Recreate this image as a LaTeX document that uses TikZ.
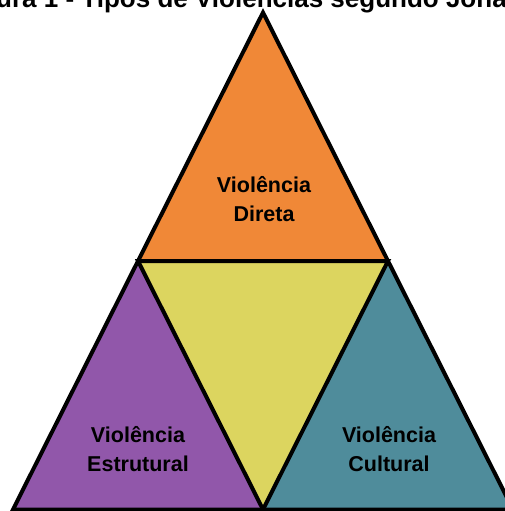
\documentclass[tikz,border=0pt]{standalone}
\usepackage{fontspec}
\setmainfont{Liberation Sans}
\definecolor{cOrange}{RGB}{240,136,55}
\definecolor{cYellow}{RGB}{220,213,95}
\definecolor{cPurple}{RGB}{145,87,170}
\definecolor{cTeal}{RGB}{79,140,155}
\tikzset{
  edge/.style={draw=black, line width=4pt, line join=miter},
  lbl/.style={font=\fontsize{21.5}{29}\selectfont\bfseries, align=center, text=black, inner sep=0pt},
  ttl/.style={font=\fontsize{26}{30}\selectfont\bfseries, text=black, inner sep=0pt, anchor=base west}
}
\begin{document}
\begin{tikzpicture}[x=1pt,y=-1pt]
\useasboundingbox (0,0) rectangle (505,511);
\begin{scope}
\clip (0,0) rectangle (505,511);
\coordinate (A) at (263,12.5);
\coordinate (L) at (138,261);
\coordinate (R) at (388,261);
\coordinate (BL) at (13,509.5);
\coordinate (BC) at (263,509.5);
\coordinate (BR) at (513,509.5);
\fill[cOrange] (A) -- (L) -- (R) -- cycle;
\fill[cYellow] (L) -- (R) -- (BC) -- cycle;
\fill[cPurple] (L) -- (BL) -- (BC) -- cycle;
\fill[cTeal] (R) -- (BC) -- (BR) -- cycle;
\draw[edge] (A) -- (BL) -- (BR) -- cycle;
\draw[edge] (L) -- (R) -- (BC) -- cycle;
\node[ttl] (title) at (-43,7.5) {Figura 1 - Tipos de Violências segundo Johan Galtung};
\end{scope}
\node[lbl] (direta) at (264,199) {Violência\\Direta};
\node[lbl] (estrutural) at (138,449) {Violência\\Estrutural};
\node[lbl] (cultural) at (389,449) {Violência\\Cultural};
\end{tikzpicture}
\end{document}
